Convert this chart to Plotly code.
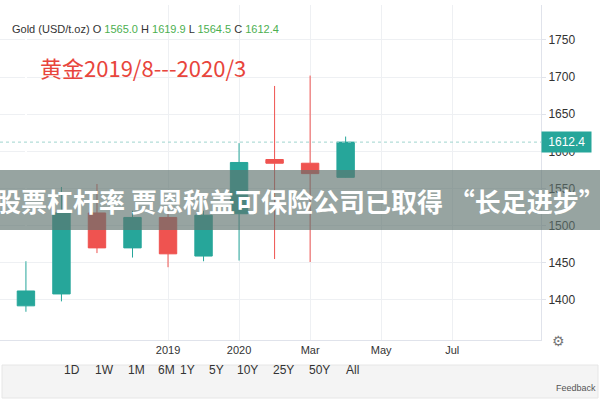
import plotly.graph_objects as go

idx = list(range(10))
opens = [1392, 1408, 1517, 1470, 1511, 1459, 1516, 1589, 1584, 1565.0]
highs = [1452, 1552, 1556, 1520, 1520, 1520, 1611, 1688, 1702, 1619.9]
lows = [1384, 1398, 1463, 1457, 1444, 1452, 1453, 1455, 1451, 1564.5]
closes = [1412, 1517, 1470, 1511, 1462, 1514, 1585, 1584, 1570, 1612.4]
tick_pos = [4, 6, 8, 10, 12]
tick_text = ["2019", "2020", "Mar", "May", "Jul"]
y_ticks = [1400, 1450, 1500, 1550, 1600, 1650, 1700, 1750]
ranges = ["1D", "1W", "1M", "6M", "1Y", "5Y", "10Y", "25Y", "50Y", "All"]
range_x = [62, 93, 126, 156, 187, 216, 248, 283, 319, 352]

W = 541  # plot width px
def px(x): return x / W
def py(y): return (340 - y) / 335

fig = go.Figure(go.Candlestick(
    x=idx, open=opens, high=highs, low=lows, close=closes,
    increasing=dict(line=dict(color="#26a69a", width=1), fillcolor="#26a69a"),
    decreasing=dict(line=dict(color="#ef5350", width=1), fillcolor="#ef5350"),
    whiskerwidth=0, showlegend=False, hoverinfo="skip"))

fig.add_hline(y=closes[-1], line=dict(color="#9fd4cf", width=1, dash="dot"))

fig.update_layout(
    width=600, height=400, margin=dict(l=0, r=600 - W, t=5, b=60, autoexpand=False),
    paper_bgcolor="white", plot_bgcolor="white",
    font=dict(family="Liberation Sans, Arial", size=12, color="#333"),
    xaxis=dict(range=[-0.73, 14.5], tickmode="array", tickvals=tick_pos, ticktext=tick_text,
               showgrid=True, gridcolor="#eef0f3", rangeslider=dict(visible=False), automargin=False,
               showline=True, linecolor="#e0e3eb", ticks="", tickfont=dict(size=11, color="#333")),
    yaxis=dict(range=[1346, 1797], side="right", tickvals=y_ticks, showgrid=True, automargin=False,
               gridcolor="#eef0f3", showline=True, linecolor="#e0e3eb", zeroline=False,
               ticks="outside", ticklen=4, tickcolor="#e0e3eb", tickfont=dict(size=12, color="#333")),
)

# bottom button band
fig.add_shape(type="rect", xref="paper", yref="paper", x0=px(2), x1=px(598), y0=py(398), y1=py(365),
    fillcolor="#f4f4f4", line=dict(color="#e6e6e6", width=1), layer="below")

fig.add_annotation(xref="paper", yref="paper", x=px(10), y=py(29), xanchor="left", yanchor="middle",
    showarrow=False, font=dict(size=11),
    text="Gold (USD/t.oz) O <span style='color:#4caf50'>1565.0</span> H <span style='color:#4caf50'>1619.9</span> L <span style='color:#4caf50'>1564.5</span> C <span style='color:#4caf50'>1612.4</span>")
fig.add_annotation(xref="paper", yref="paper", x=px(38), y=py(67), xanchor="left", yanchor="middle",
    showarrow=False, text="黄金2019/8---2020/3",
    font=dict(size=22, color="#e8453c", family="Noto Sans CJK SC"))
fig.add_annotation(xref="paper", yref="y", x=1.0, y=closes[-1], xanchor="left", showarrow=False,
    text=" 1612.4 ", bgcolor="#26a69a", font=dict(color="white", size=12), borderpad=3)
fig.add_shape(type="rect", xref="paper", yref="paper", x0=0, x1=px(600), y0=py(230), y1=py(170),
    fillcolor="rgba(95,115,110,0.65)", line=dict(width=0), layer="above")
fig.add_annotation(xref="paper", yref="paper", x=px(300), y=py(200), showarrow=False,
    text="<b>股票杠杆率 贾恩称盖可保险公司已取得 “长足进步”</b>",
    font=dict(size=26, color="white", family="Noto Sans CJK SC"))
for t, xx in zip(ranges, range_x):
    fig.add_annotation(xref="paper", yref="paper", x=px(xx), y=py(379), showarrow=False,
        text=t, font=dict(size=12, color="#333"))
fig.add_annotation(xref="paper", yref="paper", x=px(567), y=py(351), showarrow=False,
    text="⚙", font=dict(size=14, color="#777"))
fig.add_annotation(xref="paper", yref="paper", x=px(598), y=py(395), xanchor="right", showarrow=False,
    text="Feedback", font=dict(size=9, color="#555"))

fig.write_html("out.html", config={"displayModeBar": False},
               post_script="document.body.style.margin='0';")
